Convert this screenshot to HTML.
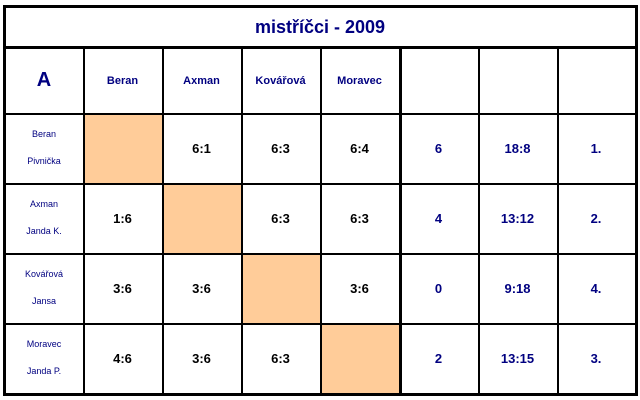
<!DOCTYPE html>
<html><head><meta charset="utf-8"><style>
body{margin:0;width:640px;height:400px;background:#fff;font-family:"Liberation Sans",Arial,sans-serif;position:relative;overflow:hidden}
.c{position:absolute;display:flex;align-items:center;justify-content:center;text-align:center;font-weight:bold;font-size:13px;color:#000}
.n{color:#000080}
.h{position:absolute;background:#000}
.o{background:#ffcc99}
.l{font-weight:normal;font-size:9px;line-height:27px;flex-direction:column}
</style></head><body>
<div class="c n" style="left:5px;top:7px;width:630px;height:40px;font-size:18px">mistříčci - 2009</div>
<div id="g"></div>
<script>
const players=["Beran","Axman","Kovářová","Moravec"];
const partners=["Pivnička","Janda K.","Jansa","Janda P."];
const scores=[[null,"6:1","6:3","6:4"],["1:6",null,"6:3","6:3"],["3:6","3:6",null,"3:6"],["4:6","3:6","6:3",null]];
const points=["6","4","0","2"];
const games=["18:8","13:12","9:18","13:15"];
const ranks=["1.","2.","4.","3."];
const xs=[5,83,162,241,320,399,478,557,635];
const ys=[48,113,183,253,323,393];
const g=document.getElementById('g');
function cell(ci,ri,html,cls,name){const d=document.createElement('div');d.className='c '+(cls||'');
d.style.left=xs[ci]+'px';d.style.top=ys[ri]+'px';d.style.width=(xs[ci+1]-xs[ci])+'px';d.style.height=(ys[ri+1]-ys[ri])+'px';d.innerHTML=html;


g.appendChild(d);}
cell(0,0,'A','n','group-label');g.lastChild.style.fontSize='20px';
players.forEach((p,i)=>{cell(i+1,0,p,'n','header-'+p.toLowerCase());g.lastChild.style.fontSize='11px';});
players.forEach((p,r)=>{
 cell(0,r+1,'<span>'+p+'</span><span>'+partners[r]+'</span>','n l','row-label');
 scores[r].forEach((s,c)=>{cell(c+1,r+1,s||'',s?'':'o',s?'score-cell':'diagonal-cell');});
 cell(5,r+1,points[r],'n','points');cell(6,r+1,games[r],'n','games');cell(7,r+1,ranks[r],'n','rank');
});
function line(x,y,w,h,name){const d=document.createElement('div');d.className='h';d.style.left=x+'px';d.style.top=y+'px';d.style.width=w+'px';d.style.height=h+'px';


g.appendChild(d);}
line(3,5,635,3,'border-top');line(3,393,635,3,'border-bottom');line(3,5,3,391,'border-left');line(635,5,3,391,'border-right');
line(3,46,635,3,'title-separator');
ys.slice(1,5).forEach(y=>line(5,y,630,2,'row-line'));
xs.slice(1,8).forEach(x=>line(x,48,x==399?3:2,345,'col-line'));
</script>
</body></html>
